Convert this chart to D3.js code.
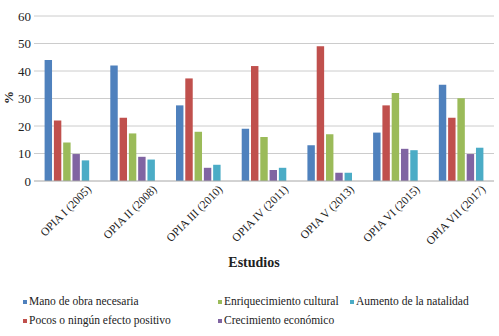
<!DOCTYPE html>
<meta charset="utf-8">
<style>
  body { margin: 0; background: #fff; }
</style>
<script src="https://d3js.org/d3.v7.min.js"></script>
<div id="chart"></div>
<script>
// Data
var estudios = ["OPIA I (2005)", "OPIA II (2008)", "OPIA III (2010)", "OPIA IV (2011)",
                "OPIA V (2013)", "OPIA VI (2015)", "OPIA VII (2017)"];
var series = ["Mano de obra necesaria", "Pocos o ningún efecto positivo",
              "Enriquecimiento cultural", "Crecimiento económico", "Aumento de la natalidad"];
var manoDeObra     = [44, 42, 27.5, 19, 13, 17.6, 35];
var pocosEfecto    = [22, 23, 37.3, 41.8, 49, 27.5, 23];
var enriquecimiento = [14, 17.3, 17.9, 16, 17, 32, 30.1];
var crecimiento    = [9.8, 8.8, 4.8, 4, 3, 11.7, 9.8];
var natalidad      = [7.5, 7.8, 5.9, 4.8, 3, 11.2, 12.1];
var yTicks = [0, 10, 20, 30, 40, 50, 60];
var colors = ["#4F81BD", "#C0504D", "#9BBB59", "#8064A2", "#4BACC6"];

var values = [manoDeObra, pocosEfecto, enriquecimiento, crecimiento, natalidad];

var W = 499, H = 336;
var margin = {top: 16, right: 5, bottom: 155, left: 34},
    width = W - margin.left - margin.right,
    height = H - margin.top - margin.bottom;

var svg = d3.select("#chart").append("svg")
    .attr("width", W).attr("height", H)
    .attr("font-family", "'Liberation Serif', 'DejaVu Serif', serif")
    .attr("fill", "#222");
var g = svg.append("g")
    .attr("transform", "translate(" + margin.left + "," + margin.top + ")");

var x0 = d3.scaleBand().domain(estudios).range([0, width]).paddingInner(0.265).paddingOuter(0.133);
var x1 = d3.scaleBand().domain(series).range([0, x0.bandwidth()]).padding(0.2);
var y = d3.scaleLinear().domain([0, 60]).range([height, 0]);

// Gridlines
g.selectAll(".grid").data(yTicks.slice(1)).enter().append("line")
    .attr("x1", 0).attr("x2", width)
    .attr("y1", d => y(d)).attr("y2", d => y(d))
    .attr("stroke", "#cccccc").attr("stroke-width", 1);

// Y tick labels
g.selectAll(".ytick").data(yTicks).enter().append("text")
    .attr("x", -3).attr("y", d => y(d)).attr("dy", "0.35em")
    .attr("text-anchor", "end").style("font-size", "13px")
    .text(d => d);

// Bars
var groups = g.selectAll(".grp").data(estudios).enter().append("g")
    .attr("transform", d => "translate(" + x0(d) + ",0)");
groups.selectAll("rect")
    .data((d, i) => series.map((s, j) => ({s: s, v: values[j][i], c: colors[j]})))
    .enter().append("rect")
    .attr("x", d => x1(d.s))
    .attr("width", x1.bandwidth())
    .attr("y", d => y(d.v))
    .attr("height", d => height - y(d.v))
    .attr("fill", d => d.c);

// Baseline
g.append("line")
    .attr("x1", 0).attr("x2", width)
    .attr("y1", height).attr("y2", height)
    .attr("stroke", "#a6a6a6");

// X labels
g.selectAll(".xlab").data(estudios).enter().append("text")
    .attr("text-anchor", "end").style("font-size", "11.5px")
    .attr("transform", d => "translate(" + (x0(d) + x0.bandwidth() / 2 + 25) + "," + (height + 9) + ") rotate(-45)")
    .text(d => d);

// Axis titles
svg.append("text")
    .attr("x", margin.left + width / 2 - 10).attr("y", 267)
    .attr("text-anchor", "middle").style("font-size", "14px").style("font-weight", "bold")
    .text("Estudios");
svg.append("text")
    .attr("transform", "translate(13," + (margin.top + height / 2 - 1) + ") rotate(-90)")
    .attr("text-anchor", "middle").style("font-size", "13px").style("font-weight", "bold")
    .text("%");

// Legend
var legendPos = [[23, 305], [23, 324], [218, 305], [218, 324], [350, 305]];
var leg = svg.selectAll(".leg").data(series).enter().append("g")
    .attr("transform", (d, i) => "translate(" + legendPos[i][0] + "," + legendPos[i][1] + ")");
leg.append("rect").attr("x", 0).attr("y", -5).attr("width", 4).attr("height", 4)
    .attr("fill", (d, i) => colors[i]);
leg.append("text").attr("x", 6).attr("y", 0).style("font-size", "11.5px").text(d => d);
</script>
